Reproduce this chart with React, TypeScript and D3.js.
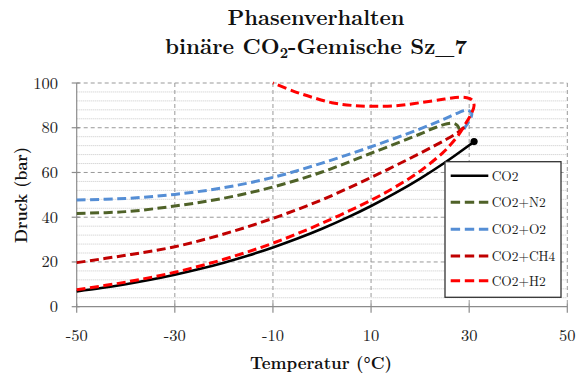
import React from "react";
import * as d3 from "d3";

// ---- data (temperature °C, pressure bar) ----
const xTicks = [-50, -30, -10, 10, 30, 50];
const yTicks = [0, 20, 40, 60, 80, 100];
const yMinorTicks = [4, 8, 12, 16, 24, 28, 32, 36, 44, 48, 52, 56, 64, 68, 72, 76, 84, 88, 92, 96];

const co2: [number, number][] = [
  [-50, 6.82], [-45, 8.32], [-40, 10.05], [-35, 12.02], [-30, 14.28], [-25, 16.83],
  [-20, 19.7], [-15, 22.91], [-10, 26.49], [-5, 30.46], [0, 34.85], [5, 39.69],
  [10, 45.02], [15, 50.87], [20, 57.29], [25, 64.34], [30, 72.14], [31, 73.8],
];
const co2N2: [number, number][] = [
  [-50, 41.7], [-40, 42.5], [-30, 45.0], [-20, 48.5], [-10, 53.5], [0, 60.2],
  [10, 68.6], [20, 77.2], [23, 80.0], [25.5, 81.8], [26.8, 82.0], [27.6, 81.0], [28, 79.2],
];
const co2O2: [number, number][] = [
  [-50, 47.7], [-40, 48.4], [-30, 50.2], [-20, 53.2], [-10, 57.8], [0, 64.2],
  [10, 71.5], [20, 79.5], [25, 84.0], [28, 86.9], [29.6, 87.9], [30.5, 86.6],
  [30.4, 84.8], [29.5, 81.3], [28.5, 78.0],
];
const co2CH4: [number, number][] = [
  [-50, 19.7], [-40, 23.0], [-30, 26.8], [-20, 32.5], [-10, 39.5], [0, 47.8],
  [10, 57.8], [20, 68.6], [25, 74.4], [27.5, 77.6], [29, 80.3],
];
const co2H2: [number, number][] = [
  [-50, 7.6], [-40, 11.0], [-30, 15.4], [-20, 21.2], [-10, 28.4], [0, 37.3],
  [10, 47.6], [15, 53.6], [20, 60.6], [24.7, 69.0], [26.1, 72.2], [27.8, 76.7],
  [29.5, 82.7], [30.5, 86.5], [31.0, 90.0], [30.6, 92.4], [29.5, 93.4], [28, 93.6],
  [25, 92.8], [20, 91.2], [15, 89.8], [10, 89.6], [6, 90.0], [2, 91.2], [-2, 93.6],
  [-6, 96.5], [-10, 100],
];

const seriesNames = ["CO2", "CO2+N2", "CO2+O2", "CO2+CH4", "CO2+H2"];
const seriesData = [co2, co2N2, co2O2, co2CH4, co2H2];
const seriesColors = ["#000000", "#4F6228", "#558ED5", "#C00000", "#FF0000"];
const seriesDashed = [false, true, true, true, true];

const W = 576;
const H = 374;
const FONT = "'Latin Modern Roman', 'Liberation Serif', serif";

export default function App() {
  const x = d3.scaleLinear().domain([-50, 50]).range([76.7, 567.3]);
  const y = d3.scaleLinear().domain([0, 100]).range([306.7, 83]);
  const line = d3
    .line<[number, number]>()
    .x((d) => x(d[0]))
    .y((d) => y(d[1]))
    .curve(d3.curveCatmullRom.alpha(0.5));

  const [x0, x1] = x.range();
  const [y0, y1] = y.range();
  const last = co2[co2.length - 1];

  const legX = 445;
  const legY = 161.7;
  const legW = 116;
  const legH = 135.6;
  const legRowY = [175.7, 202.3, 229.3, 256, 280.7];
  const txt = { fontFamily: FONT };

  return (
    <svg width={W} height={H} style={{ position: "absolute", left: 0, top: 0 }}>
      <rect x={0} y={0} width={W} height={H} fill="#fff" />
      {/* title */}
      <text x={316} y={25} style={txt} textAnchor="middle" fontSize={21} fontWeight="bold" fill="#111" textLength={177} lengthAdjust="spacingAndGlyphs">
        Phasenverhalten
      </text>
      <text x={316} y={54} style={txt} textAnchor="middle" fontSize={21} fontWeight="bold" fill="#111" textLength={302} lengthAdjust="spacingAndGlyphs">
        binäre CO
        <tspan fontSize={14} dy={4}>2</tspan>
        <tspan dy={-4}>-Gemische Sz_7</tspan>
      </text>

      {/* minor gridlines */}
      {yMinorTicks.map((v) => (
        <line key={"m" + v} x1={x0} x2={x1} y1={y(v)} y2={y(v)} stroke="#c8c8c8" strokeWidth={1} strokeDasharray="1,1" />
      ))}
      {/* major horizontal gridlines */}
      {yTicks.filter((v) => v > 0).map((v) => (
        <line key={"h" + v} x1={x0} x2={x1} y1={y(v)} y2={y(v)} stroke="#999" strokeWidth={1} strokeDasharray="4,3" />
      ))}
      {/* major vertical gridlines */}
      {xTicks.filter((v) => v > -50).map((v) => (
        <line key={"v" + v} x1={x(v)} x2={x(v)} y1={y1} y2={y0} stroke="#999" strokeWidth={1} strokeDasharray="4,3" />
      ))}

      {/* axes */}
      <line x1={x0} x2={x0} y1={y1} y2={y0} stroke="#8c8c8c" strokeWidth={1.2} />
      <line x1={x0} x2={x1} y1={y0} y2={y0} stroke="#8c8c8c" strokeWidth={1.2} />
      {yTicks.map((v) => (
        <g key={"yt" + v}>
          <line x1={x0 - 5} x2={x0 + 3} y1={y(v)} y2={y(v)} stroke="#8c8c8c" strokeWidth={1.2} />
          <text x={58} y={y(v) + 5.5} style={txt} textAnchor="end" fontSize={16.5} fill="#222">
            {v}
          </text>
        </g>
      ))}
      {xTicks.map((v) => (
        <g key={"xt" + v}>
          <line x1={x(v)} x2={x(v)} y1={y0 - 3} y2={y0 + 6} stroke="#8c8c8c" strokeWidth={1.2} />
          <text x={x(v)} y={340.7} style={txt} textAnchor="middle" fontSize={16.5} fill="#222">
            {v}
          </text>
        </g>
      ))}

      {/* axis titles */}
      <text x={321} y={369} style={txt} textAnchor="middle" fontSize={17} fontWeight="bold" fill="#111" textLength={142} lengthAdjust="spacingAndGlyphs">
        Temperatur (°C)
      </text>
      <text
        transform={`translate(27,195) rotate(-90)`}
        style={txt}
        textAnchor="middle"
        fontSize={17}
        fontWeight="bold"
        fill="#111"
        textLength={96}
        lengthAdjust="spacingAndGlyphs"
      >
        Druck (bar)
      </text>

      {/* series */}
      {seriesData.map((d, i) => (
        <path
          key={"s" + i}
          d={line(d) || ""}
          fill="none"
          stroke={seriesColors[i]}
          strokeWidth={seriesDashed[i] ? 3 : 2.6}
          strokeDasharray={seriesDashed[i] ? "9,4.5" : undefined}
          strokeLinejoin="round"
        />
      ))}
      <circle cx={x(last[0])} cy={y(last[1])} r={3.6} fill="#000" />

      {/* legend */}
      <rect x={legX} y={legY} width={legW} height={legH} fill="#fff" stroke="#333" strokeWidth={1.3} />
      {seriesNames.map((n, i) => (
        <g key={"l" + i}>
          <line
            x1={450.7}
            x2={488.3}
            y1={legRowY[i]}
            y2={legRowY[i]}
            stroke={seriesColors[i]}
            strokeWidth={seriesDashed[i] ? 3 : 2.6}
            strokeDasharray={seriesDashed[i] ? "9.4,4.7" : undefined}
          />
          <text x={491.7} y={legRowY[i] + 5} style={txt} fontSize={13.4} fill="#222">
            {n}
          </text>
        </g>
      ))}
    </svg>
  );
}
